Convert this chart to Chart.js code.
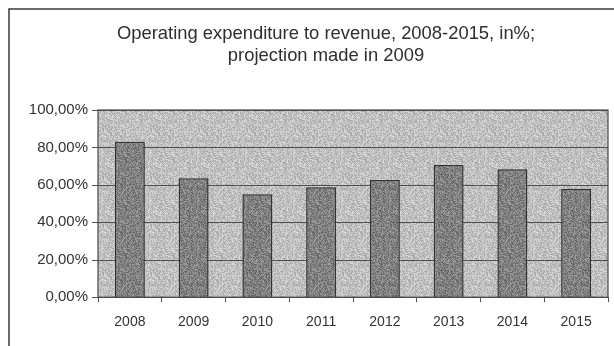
<!DOCTYPE html>
<html>
<head>
<meta charset="utf-8">
<script src="https://cdn.jsdelivr.net/npm/chart.js@4/dist/chart.umd.min.js"></script>
<style>
  html, body { margin: 0; padding: 0; background: #fff; }
  #wrap { width: 614px; height: 346px; position: relative; }
</style>
</head>
<body>
<div id="wrap"><canvas id="chart" width="614" height="346"></canvas></div>
<script>
const years = ['2008', '2009', '2010', '2011', '2012', '2013', '2014', '2015'];
const opexRatio = [83.0, 63.5, 55.0, 58.7, 62.6, 70.6, 68.4, 57.8];
const yTickValues = [0, 20, 40, 60, 80, 100];
const yTickLabels = ['0,00%', '20,00%', '40,00%', '60,00%', '80,00%', '100,00%'];
const titleLines = ['Operating expenditure to revenue, 2008-2015, in%;', 'projection made in 2009'];

// grainy fill, like the scanned print (fixed hash, no randomness)
function grain(base, spread) {
  const c = document.createElement('canvas');
  c.width = 48;
  c.height = 48;
  const g = c.getContext('2d');
  const img = g.createImageData(48, 48);
  for (let y = 0; y < 48; y++) {
    for (let x = 0; x < 48; x++) {
      let h = (x * 374761393 + y * 668265263) | 0;
      h = Math.imul(h ^ (h >>> 13), 1274126177);
      h = (h ^ (h >>> 16)) & 255;
      const v = Math.max(0, Math.min(255, base + Math.round((h / 255 - 0.5) * spread)));
      const i = (y * 48 + x) * 4;
      img.data[i] = img.data[i + 1] = img.data[i + 2] = v;
      img.data[i + 3] = 255;
    }
  }
  g.putImageData(img, 0, 0);
  return document.getElementById('chart').getContext('2d').createPattern(c, 'repeat');
}

const plotFill = grain(192, 60);
const barFill = grain(128, 70);

// outer frame (only top and left edges are visible in the scan)
const framePlugin = {
  id: 'frame',
  beforeDraw(chart) {
    const ctx = chart.ctx;
    ctx.save();
    ctx.strokeStyle = '#3a3a3a';
    ctx.lineWidth = 1.5;
    ctx.beginPath();
    ctx.moveTo(9, 346);
    ctx.lineTo(9, 9);
    ctx.lineTo(614, 9);
    ctx.stroke();
    ctx.restore();
  },
};

// two-line title, centred on the frame rather than on the canvas
const titlePlugin = {
  id: 'twoLineTitle',
  afterDraw(chart) {
    const ctx = chart.ctx;
    ctx.save();
    ctx.fillStyle = '#2e2e2e';
    ctx.font = '18.4px "Liberation Sans", Arial, sans-serif';
    ctx.textAlign = 'center';
    ctx.textBaseline = 'middle';
    titleLines.forEach((t, i) => ctx.fillText(t, 326, 34 + i * 22));
    ctx.restore();
  },
};

// grey plot area with a border
const plotBg = {
  id: 'plotBg',
  beforeDatasetsDraw(chart) {
    const { ctx, chartArea: a } = chart;
    ctx.save();
    ctx.fillStyle = plotFill;
    ctx.fillRect(a.left, a.top, a.right - a.left, a.bottom - a.top);
    // horizontal grid over the fill
    ctx.strokeStyle = '#505050';
    ctx.lineWidth = 1;
    const y = chart.scales.y;
    yTickValues.forEach((v) => {
      const py = Math.round(y.getPixelForValue(v)) + 0.5;
      ctx.beginPath();
      ctx.moveTo(a.left - 6, py);
      ctx.lineTo(a.right, py);
      ctx.stroke();
    });
    ctx.restore();
  },
  afterDatasetsDraw(chart) {
    const { ctx, chartArea: a } = chart;
    ctx.save();
    ctx.strokeStyle = '#4a4a4a';
    ctx.lineWidth = 1.2;
    ctx.strokeRect(a.left, a.top, a.right - a.left, a.bottom - a.top);
    ctx.restore();
  },
};

new Chart(document.getElementById('chart'), {
  type: 'bar',
  data: {
    labels: years,
    datasets: [{
      data: opexRatio,
      backgroundColor: barFill,
      borderColor: '#333',
      borderWidth: 1.5,
      categoryPercentage: 1,
      barPercentage: 0.47,
    }],
  },
  options: {
    responsive: false,
    animation: false,
    devicePixelRatio: 1,
    layout: { padding: { left: 0, right: 6, top: 110, bottom: 3 } },
    plugins: {
      legend: { display: false },
      tooltip: { enabled: false },
      title: { display: false },
    },
    scales: {
      x: {
        grid: { drawOnChartArea: false, color: '#555', tickLength: 5, offset: true },
        border: { color: '#555' },
        ticks: { color: '#333', padding: 12, maxRotation: 0, font: { family: 'Liberation Sans', size: 14 } },
      },
      y: {
        min: 0,
        max: 100,
        afterBuildTicks(scale) {
          scale.ticks = yTickValues.map((v) => ({ value: v }));
        },
        afterFit(scale) {
          scale.width = 98;
        },
        grid: { display: false, drawOnChartArea: false },
        border: { color: '#555' },
        ticks: {
          color: '#333',
          padding: 2,
          font: { family: 'Liberation Sans', size: 15 },
          callback: (v, i) => yTickLabels[i],
        },
      },
    },
  },
  plugins: [framePlugin, plotBg, titlePlugin],
});
</script>
</body>
</html>
